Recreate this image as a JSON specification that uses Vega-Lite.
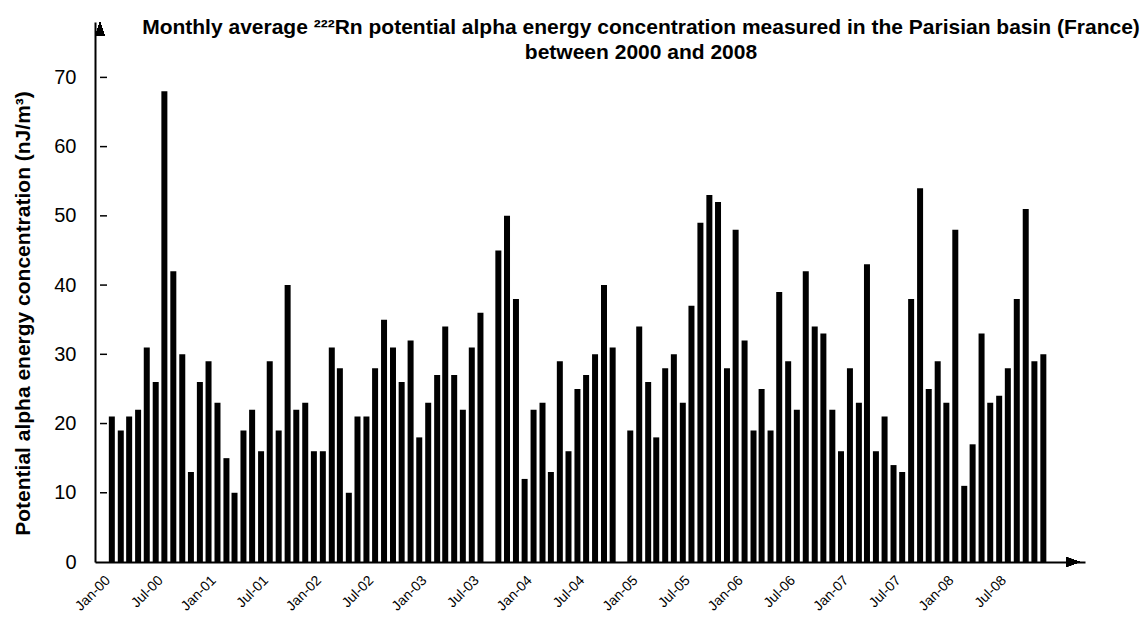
{
  "$schema": "https://vega.github.io/schema/vega-lite/v6.json",
  "width": 990,
  "height": 540,
  "autosize": {"type": "none"},
  "padding": {"left": 95, "top": 22, "right": 63, "bottom": 55},
  "background": "white",
  "config": {"view": {"stroke": null}, "font": "Liberation Sans"},
  "title": {
    "text": ["Monthly average ²²²Rn potential alpha energy concentration measured in the Parisian basin (France)", "between 2000 and 2008"],
    "font": "Liberation Sans",
    "fontSize": 21,
    "fontWeight": "bold",
    "color": "black",
    "anchor": "middle",
    "frame": "group",
    "dx": 51,
    "lineHeight": 25,
    "offset": 0,
    "baseline": "top",
    "dy": 41
  },
  "data": {
    "values": [
      {"date": "2000-01-01", "value": 21}, {"date": "2000-02-01", "value": 19}, {"date": "2000-03-01", "value": 21}, {"date": "2000-04-01", "value": 22},
      {"date": "2000-05-01", "value": 31}, {"date": "2000-06-01", "value": 26}, {"date": "2000-07-01", "value": 68}, {"date": "2000-08-01", "value": 42},
      {"date": "2000-09-01", "value": 30}, {"date": "2000-10-01", "value": 13}, {"date": "2000-11-01", "value": 26}, {"date": "2000-12-01", "value": 29},
      {"date": "2001-01-01", "value": 23}, {"date": "2001-02-01", "value": 15}, {"date": "2001-03-01", "value": 10}, {"date": "2001-04-01", "value": 19},
      {"date": "2001-05-01", "value": 22}, {"date": "2001-06-01", "value": 16}, {"date": "2001-07-01", "value": 29}, {"date": "2001-08-01", "value": 19},
      {"date": "2001-09-01", "value": 40}, {"date": "2001-10-01", "value": 22}, {"date": "2001-11-01", "value": 23}, {"date": "2001-12-01", "value": 16},
      {"date": "2002-01-01", "value": 16}, {"date": "2002-02-01", "value": 31}, {"date": "2002-03-01", "value": 28}, {"date": "2002-04-01", "value": 10},
      {"date": "2002-05-01", "value": 21}, {"date": "2002-06-01", "value": 21}, {"date": "2002-07-01", "value": 28}, {"date": "2002-08-01", "value": 35},
      {"date": "2002-09-01", "value": 31}, {"date": "2002-10-01", "value": 26}, {"date": "2002-11-01", "value": 32}, {"date": "2002-12-01", "value": 18},
      {"date": "2003-01-01", "value": 23}, {"date": "2003-02-01", "value": 27}, {"date": "2003-03-01", "value": 34}, {"date": "2003-04-01", "value": 27},
      {"date": "2003-05-01", "value": 22}, {"date": "2003-06-01", "value": 31}, {"date": "2003-07-01", "value": 36},
      {"date": "2003-09-01", "value": 45}, {"date": "2003-10-01", "value": 50}, {"date": "2003-11-01", "value": 38}, {"date": "2003-12-01", "value": 12},
      {"date": "2004-01-01", "value": 22}, {"date": "2004-02-01", "value": 23}, {"date": "2004-03-01", "value": 13}, {"date": "2004-04-01", "value": 29},
      {"date": "2004-05-01", "value": 16}, {"date": "2004-06-01", "value": 25}, {"date": "2004-07-01", "value": 27}, {"date": "2004-08-01", "value": 30},
      {"date": "2004-09-01", "value": 40}, {"date": "2004-10-01", "value": 31}, {"date": "2004-12-01", "value": 19},
      {"date": "2005-01-01", "value": 34}, {"date": "2005-02-01", "value": 26}, {"date": "2005-03-01", "value": 18}, {"date": "2005-04-01", "value": 28},
      {"date": "2005-05-01", "value": 30}, {"date": "2005-06-01", "value": 23}, {"date": "2005-07-01", "value": 37}, {"date": "2005-08-01", "value": 49},
      {"date": "2005-09-01", "value": 53}, {"date": "2005-10-01", "value": 52}, {"date": "2005-11-01", "value": 28}, {"date": "2005-12-01", "value": 48},
      {"date": "2006-01-01", "value": 32}, {"date": "2006-02-01", "value": 19}, {"date": "2006-03-01", "value": 25}, {"date": "2006-04-01", "value": 19},
      {"date": "2006-05-01", "value": 39}, {"date": "2006-06-01", "value": 29}, {"date": "2006-07-01", "value": 22}, {"date": "2006-08-01", "value": 42},
      {"date": "2006-09-01", "value": 34}, {"date": "2006-10-01", "value": 33}, {"date": "2006-11-01", "value": 22}, {"date": "2006-12-01", "value": 16},
      {"date": "2007-01-01", "value": 28}, {"date": "2007-02-01", "value": 23}, {"date": "2007-03-01", "value": 43}, {"date": "2007-04-01", "value": 16},
      {"date": "2007-05-01", "value": 21}, {"date": "2007-06-01", "value": 14}, {"date": "2007-07-01", "value": 13}, {"date": "2007-08-01", "value": 38},
      {"date": "2007-09-01", "value": 54}, {"date": "2007-10-01", "value": 25}, {"date": "2007-11-01", "value": 29}, {"date": "2007-12-01", "value": 23},
      {"date": "2008-01-01", "value": 48}, {"date": "2008-02-01", "value": 11}, {"date": "2008-03-01", "value": 17}, {"date": "2008-04-01", "value": 33},
      {"date": "2008-05-01", "value": 23}, {"date": "2008-06-01", "value": 24}, {"date": "2008-07-01", "value": 28}, {"date": "2008-08-01", "value": 38},
      {"date": "2008-09-01", "value": 51}, {"date": "2008-10-01", "value": 29}, {"date": "2008-11-01", "value": 30}
    ]
  },
  "layer": [
    {
      "mark": {"type": "bar", "color": "black", "width": 6},
      "encoding": {
        "x": {
          "field": "date",
          "type": "temporal",
          "scale": {
            "type": "utc",
            "domain": [
              {"year": 1999, "month": 11, "date": 21, "utc": true},
              {"year": 2009, "month": 3, "date": 8, "utc": true}
            ]
          },
          "axis": {
            "title": null,
            "labelExpr": "utcFormat(datum.value, '%b-%y')",
            "values": [
              {"year": 2000, "month": 1, "date": 1, "utc": true}, {"year": 2000, "month": 7, "date": 1, "utc": true},
              {"year": 2001, "month": 1, "date": 1, "utc": true}, {"year": 2001, "month": 7, "date": 1, "utc": true},
              {"year": 2002, "month": 1, "date": 1, "utc": true}, {"year": 2002, "month": 7, "date": 1, "utc": true},
              {"year": 2003, "month": 1, "date": 1, "utc": true}, {"year": 2003, "month": 7, "date": 1, "utc": true},
              {"year": 2004, "month": 1, "date": 1, "utc": true}, {"year": 2004, "month": 7, "date": 1, "utc": true},
              {"year": 2005, "month": 1, "date": 1, "utc": true}, {"year": 2005, "month": 7, "date": 1, "utc": true},
              {"year": 2006, "month": 1, "date": 1, "utc": true}, {"year": 2006, "month": 7, "date": 1, "utc": true},
              {"year": 2007, "month": 1, "date": 1, "utc": true}, {"year": 2007, "month": 7, "date": 1, "utc": true},
              {"year": 2008, "month": 1, "date": 1, "utc": true}, {"year": 2008, "month": 7, "date": 1, "utc": true}
            ],
            "labelAngle": -45,
            "labelFontSize": 14,
            "labelFont": "Liberation Sans",
            "labelColor": "black",
            "labelPadding": 11,
            "labelOffset": -9,
            "labelOverlap": false,
            "labelFlush": false,
            "ticks": false,
            "grid": false,
            "domainColor": "black",
            "domainWidth": 2
          }
        },
        "y": {
          "field": "value",
          "type": "quantitative",
          "scale": {"domain": [0, 78], "nice": false},
          "axis": {
            "title": "Potential alpha energy concentration (nJ/m³)",
            "titleFont": "Liberation Sans",
            "titleFontSize": 21,
            "titleFontWeight": "bold",
            "titleColor": "black",
            "titleX": -62,
            "titleY": 291,
            "titleAngle": -90,
            "titleBaseline": "bottom",
            "values": [0, 10, 20, 30, 40, 50, 60, 70],
            "labelFontSize": 20,
            "labelFont": "Liberation Sans",
            "labelColor": "black",
            "labelPadding": 19,
            "ticks": false,
            "grid": false,
            "domainColor": "black",
            "domainWidth": 2
          }
        }
      }
    },
    {
      "data": {"values": [{"v": 10}, {"v": 20}, {"v": 30}, {"v": 40}, {"v": 50}, {"v": 60}, {"v": 70}]},
      "mark": {"type": "tick", "orient": "horizontal", "color": "black", "opacity": 1, "size": 7, "thickness": 1.5, "xOffset": 3.5},
      "encoding": {
        "x": {"datum": {"year": 1999, "month": 11, "date": 21, "utc": true}, "type": "temporal"},
        "y": {"field": "v", "type": "quantitative"}
      }
    },
    {
      "mark": {"type": "point", "filled": true, "color": "black", "opacity": 1, "size": 240, "shape": "M0,0L-1.8,-0.6L-1.8,0.6Z"},
      "encoding": {
        "x": {"datum": {"year": 2009, "month": 3, "date": 8, "utc": true}, "type": "temporal"},
        "y": {"datum": 0}
      }
    },
    {
      "mark": {"type": "point", "filled": true, "color": "black", "opacity": 1, "size": 240, "shape": "M0,0L-0.6,1.8L0.6,1.8Z"},
      "encoding": {
        "x": {"datum": {"year": 1999, "month": 11, "date": 21, "utc": true}, "type": "temporal"},
        "y": {"datum": 78}
      }
    }
  ]
}
